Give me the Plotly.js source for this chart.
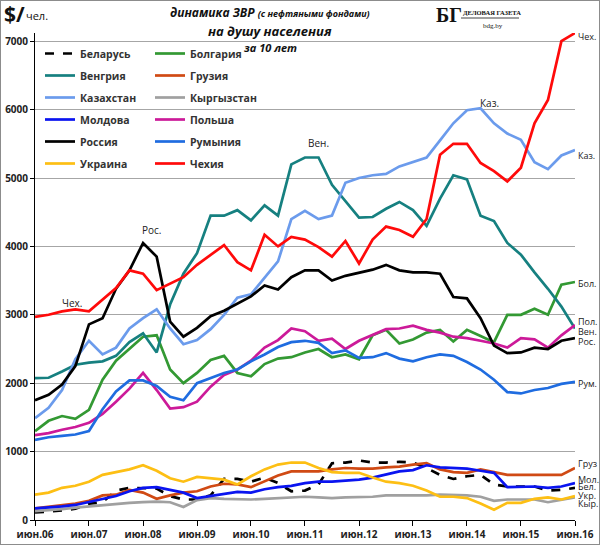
<!DOCTYPE html>
<html>
<head>
<meta charset="utf-8">
<script src="https://cdn.plot.ly/plotly-3.0.1.min.js"></script>
<style>
  body { margin: 0; background: #fff; }
  #wrap { position: relative; width: 600px; height: 545px; }
  #chart { width: 600px; height: 545px; }
  #frame { position: absolute; left: 0; top: 0; width: 598px; height: 543px; border: 1px solid #8c8c8c; pointer-events: none; }
</style>
</head>
<body>
<div id="wrap"><div id="chart"></div><div id="frame"></div></div>
<script>
// quarterly readings, июн.06 .. июн.16 (41 points), $ per person
const belarus    = [110,120,140,165,240,260,430,470,470,460,350,300,300,360,600,600,560,620,540,420,430,520,830,840,870,840,840,850,840,760,660,600,640,660,520,490,490,490,430,440,470];
const bulgaria   = [1300,1450,1520,1480,1610,2050,2330,2500,2680,2700,2200,2000,2150,2340,2400,2150,2100,2280,2360,2380,2450,2500,2380,2420,2350,2700,2780,2580,2640,2740,2780,2610,2780,2690,2600,3000,3000,3090,3000,3440,3480];
const hungary    = [2075,2080,2170,2270,2300,2320,2400,2600,2730,2450,3150,3600,3900,4450,4450,4530,4380,4600,4450,5200,5300,5300,4900,4660,4420,4430,4550,4650,4530,4300,4700,5040,4980,4450,4370,4050,3880,3620,3380,3120,2800];
const georgia    = [170,190,220,240,280,360,370,440,400,310,360,400,420,490,530,520,480,560,650,710,710,710,740,760,750,750,770,780,810,830,740,700,690,740,700,660,660,660,660,660,760];
const kazakhstan = [1490,1640,1900,2350,2620,2420,2520,2800,2950,3080,2800,2570,2630,2790,3000,3250,3300,3540,3780,4400,4520,4400,4450,4930,5000,5040,5060,5170,5230,5300,5550,5800,5990,6020,5800,5650,5560,5230,5130,5330,5410];
const kyrgyzstan = [130,140,160,180,200,220,240,250,260,270,260,190,290,320,310,300,300,310,320,330,340,330,320,330,330,340,360,360,350,360,370,370,360,340,280,300,300,300,260,300,330];
const moldova    = [170,180,200,220,260,300,350,420,470,480,440,400,320,350,380,410,400,450,480,500,540,560,560,570,590,620,660,710,730,800,770,760,750,720,690,480,490,490,470,490,540];
const poland     = [1240,1270,1320,1360,1420,1550,1730,1920,2150,1900,1630,1650,1730,1950,2120,2200,2330,2520,2630,2800,2760,2620,2650,2500,2620,2700,2790,2800,2840,2780,2740,2680,2660,2620,2580,2520,2660,2640,2520,2700,2850];
const russia     = [1750,1830,1980,2250,2860,2950,3380,3650,4050,3850,2900,2680,2810,2980,3060,3170,3270,3430,3370,3550,3650,3650,3500,3570,3610,3660,3730,3650,3620,3620,3600,3260,3240,2950,2550,2440,2450,2520,2500,2620,2660];
const romania    = [1170,1210,1230,1250,1300,1620,1880,2040,2040,1960,1800,1750,2000,2080,2150,2200,2320,2420,2530,2600,2620,2590,2440,2480,2370,2380,2440,2360,2320,2380,2420,2400,2310,2200,2050,1870,1850,1900,1930,1990,2020];
const ukraine    = [370,400,470,500,560,660,700,740,800,720,610,560,630,610,590,520,640,740,810,840,840,760,700,690,690,620,560,540,500,430,340,340,320,240,150,250,250,310,330,300,350];
const czechia    = [2970,3000,3050,3080,3050,3220,3390,3650,3600,3360,3460,3550,3730,3870,4020,3770,3650,4170,4000,4140,4100,3990,3850,4080,3750,4100,4290,4240,4140,4400,5340,5500,5500,5220,5100,4950,5150,5800,6140,7000,7120];

const seriesNames = ['Беларусь','Болгария','Венгрия','Грузия','Казахстан','Кыргызстан','Молдова','Польша','Россия','Румыния','Украина','Чехия'];
const seriesData  = [belarus, bulgaria, hungary, georgia, kazakhstan, kyrgyzstan, moldova, poland, russia, romania, ukraine, czechia];
const seriesColors = ['#000000','#339933','#168080','#d04a14','#6b9bec','#a0a0a0','#0a14f0','#cc1a99','#000000','#1f6ce0','#fdbf14','#ff0a0a'];

const xTickYears = ['06','07','08','09','10','11','12','13','14','15','16'];
const yTicks = [0,1000,2000,3000,4000,5000,6000,7000];

// quarterly dates
const dates = [];
for (let i = 0; i <= 40; i++) {
    const m = 5 + 3 * i;
    dates.push((2006 + Math.floor(m / 12)) + '-' + String(m % 12 + 1).padStart(2, '0') + '-01');
}

const FONT = '"Open Sans", "DejaVu Sans", sans-serif';
const SERIF = '"Liberation Serif", "DejaVu Serif", serif';

// plot area in pixels: x 35..575, y 33..520
const px = v => (v - 35) / 540;
const py = v => (520 - v) / 487;

const traces = seriesNames.map((name, i) => ({
    x: dates, y: seriesData[i], name: '<b>' + name + '</b>',
    type: 'scatter', mode: 'lines',
    line: { color: seriesColors[i], width: 2.7, dash: i === 0 ? 'dash' : 'solid' },
    legend: i % 2 === 0 ? 'legend' : 'legend2',
    legendgroup: 'g' + i,
    hoverinfo: 'x+y+name'
}));

const legendBase = {
    xanchor: 'left', yanchor: 'top', bgcolor: 'rgba(0,0,0,0)',
    font: { family: FONT, size: 10.5, color: '#333' },
    tracegroupgap: 3, itemwidth: 30
};

const annots = [];
function addText(text, x, y, size, opts) {
    annots.push(Object.assign({
        text: text, xref: 'paper', yref: 'paper', x: px(x), y: py(y),
        showarrow: false, xanchor: 'left', yanchor: 'middle',
        font: { family: FONT, size: size, color: '#222' }
    }, opts || {}));
}

// titles
addText('<b><i>динамика ЗВР </i></b><b><i><span style="font-size:9px">(с нефтяными фондами)</span></i></b>', 270, 12, 12, { xanchor: 'center', font: { family: FONT, size: 12, color: '#111' } });
addText('<b><i>на душу населения</i></b>', 270, 31, 13, { xanchor: 'center', font: { family: FONT, size: 13, color: '#111' } });
addText('<b><i>за 10 лет</i></b>', 270, 48, 11, { xanchor: 'center', font: { family: FONT, size: 11, color: '#111' } });
addText('<b>$/</b>', 2, 14, 21, { font: { family: FONT, size: 21, color: '#111' } });
addText('чел.', 24, 16, 11, { font: { family: FONT, size: 11, color: '#111' } });

// logo
addText('<b>БГ</b>', 434, 15, 20, { font: { family: SERIF, size: 20, color: '#111' } });
addText('<b>ДЕЛОВАЯ ГАЗЕТА</b>', 461, 12, 6.5, { font: { family: SERIF, size: 6.5, color: '#111' } });
addText('bdg.by', 481, 26, 7, { font: { family: SERIF, size: 7, color: '#111' } });

// labels inside the plot
addText('Чех.', 60, 303, 10);
addText('Рос.', 140, 230, 10);
addText('Вен.', 306, 143, 10);
addText('Каз.', 478, 103, 10);

// end labels
const endLabels = [['Чех.',36],['Каз.',155],['Бол.',283],['Пол.',321],['Вен.',331],['Рос.',341],['Рум.',383],['Груз',463],['Мол.',479],['Бел.',487],['Укр.',495],['Кыр.',503]];
endLabels.forEach(l => addText(l[0], 576, l[1], 9));

const layout = {
    width: 600, height: 545,
    margin: { l: 35, r: 25, t: 33, b: 25, pad: 0 },
    paper_bgcolor: '#fff', plot_bgcolor: '#fff',
    font: { family: FONT, size: 10, color: '#222' },
    showlegend: true,
    legend: Object.assign({ x: px(40), y: py(39) }, legendBase),
    legend2: Object.assign({ x: px(150), y: py(39) }, legendBase),
    xaxis: {
        type: 'date', range: ['2006-06-01', '2016-06-01'],
        tickvals: xTickYears.map(y => '20' + y + '-06-01'),
        ticktext: xTickYears.map(y => '<b>июн.' + y + '</b>'),
        ticks: 'outside', ticklen: 5, tickcolor: '#000',
        showline: true, linecolor: '#000', linewidth: 1,
        showgrid: false, zeroline: false,
        tickfont: { family: FONT, size: 10, color: '#222' }
    },
    yaxis: {
        range: [0, 7120],
        tickvals: yTicks, ticktext: yTicks.map(v => '<b>' + v + '</b>'),
        ticks: 'outside', ticklen: 4, tickcolor: '#000',
        showline: true, linecolor: '#000', linewidth: 1,
        showgrid: true, gridcolor: '#a6a6a6', gridwidth: 1,
        zeroline: false,
        tickfont: { family: FONT, size: 10, color: '#222' }
    },
    annotations: annots,
    shapes: [
        { type: 'line', xref: 'paper', yref: 'paper', x0: px(461), x1: px(519), y0: py(18), y1: py(18), line: { color: '#111', width: 0.8 } }
    ]
};

Plotly.newPlot('chart', traces, layout, { displayModeBar: false, responsive: false });
</script>
</body>
</html>
